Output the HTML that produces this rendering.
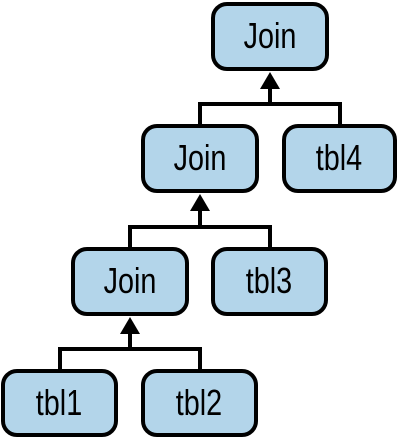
<!DOCTYPE html>
<html><head><style>body{margin:0;background:#fff}svg{display:block}</style></head><body>
<svg width="401" height="441" viewBox="0 0 401 441" xmlns="http://www.w3.org/2000/svg">
<g fill="#b3d5ea" stroke="#000" stroke-width="4">
<rect x="213" y="4" width="114" height="65" rx="14"/>
<rect x="143" y="126" width="114" height="65" rx="14"/>
<rect x="284" y="126" width="111" height="65" rx="14"/>
<rect x="73" y="249" width="114" height="65" rx="14"/>
<rect x="213" y="249" width="113" height="65" rx="14"/>
<rect x="3" y="371" width="113" height="64" rx="14"/>
<rect x="143" y="371" width="113" height="64" rx="14"/>
</g>
<g fill="none" stroke="#000" stroke-width="4">
<path d="M200 125V104H340V125M270 104V84"/>
<path d="M130 248V227H270V248M200 227V207"/>
<path d="M60 370V349H200V370M130 349V330"/>
</g>
<g fill="#000">
<path d="M260 89L270 72L280 89Z"/>
<path d="M190 211L200 194L210 211Z"/>
<path d="M120 334L130 317L140 334Z"/>
</g>
<g font-family="Liberation Sans, sans-serif" font-size="36" text-anchor="middle" fill="#000">
<text x="270" y="48" transform="translate(270 0) scale(0.8 1) translate(-270 0)">Join</text>
<text x="200" y="170" transform="translate(200 0) scale(0.8 1) translate(-200 0)">Join</text>
<text x="339" y="170" transform="translate(339 0) scale(0.8 1) translate(-339 0)">tbl4</text>
<text x="130" y="293" transform="translate(130 0) scale(0.8 1) translate(-130 0)">Join</text>
<text x="269" y="293" transform="translate(269 0) scale(0.8 1) translate(-269 0)">tbl3</text>
<text x="59" y="415" transform="translate(59 0) scale(0.8 1) translate(-59 0)">tbl1</text>
<text x="199" y="415" transform="translate(199 0) scale(0.8 1) translate(-199 0)">tbl2</text>
</g>
</svg>
</body></html>
